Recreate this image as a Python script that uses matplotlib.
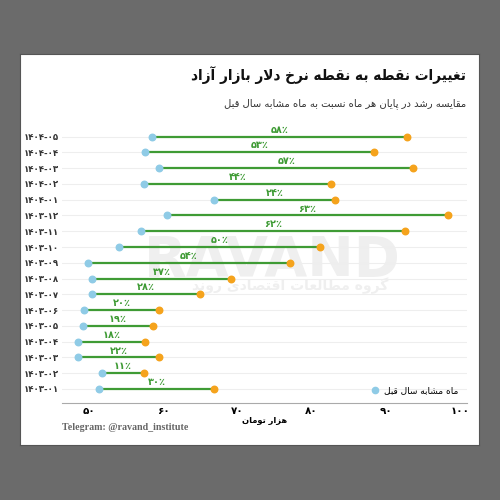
import matplotlib

matplotlib.use("Agg")
import matplotlib.pyplot as plt
from matplotlib.lines import Line2D

# months (bottom to top), rate a year earlier, rate at month end, growth %
months = ["1403-01", "1403-02", "1403-03", "1403-04", "1403-05", "1403-06",
          "1403-07", "1403-08", "1403-09", "1403-10", "1403-11", "1403-12",
          "1404-01", "1404-02", "1404-03", "1404-04", "1404-05"]
prev_year = [51.4, 51.8, 48.6, 48.6, 49.2, 49.3, 50.5, 50.4, 49.9, 54.1, 57.0,
             60.5, 66.9, 57.4, 59.5, 57.6, 58.5]
current = [66.9, 57.4, 59.5, 57.6, 58.6, 59.5, 65.0, 69.2, 77.1, 81.1, 92.6,
           98.4, 83.1, 82.6, 93.7, 88.4, 92.8]
growth = [30, 11, 22, 18, 19, 20, 28, 37, 54, 50, 62, 63, 24, 44, 57, 53, 58]
x_ticks = [50, 60, 70, 80, 90, 100]

TITLE = "تغییرات نقطه به نقطه نرخ دلار بازار آزاد"
SUBTITLE = "مقایسه رشد در پایان هر ماه نسبت به ماه مشابه سال قبل"
LEGEND = "ماه مشابه سال قبل"
XLABEL = "هزار تومان"
WATERMARK = "گروه مطالعات اقتصادی روند"

GREEN = "#3f9b35"
BLUE = "#8fcbe6"
ORANGE = "#f5a31c"

# matplotlib has no Arabic shaping: pick presentation forms by hand and
# reverse for right-to-left display
# letter -> (isolated, final, initial, medial)
FORMS = {
    "ا": ("\uFE8D", "\uFE8E", None, None),
    "آ": ("\uFE81", "\uFE82", None, None),
    "ب": ("\uFE8F", "\uFE90", "\uFE91", "\uFE92"),
    "پ": ("\uFB56", "\uFB57", "\uFB58", "\uFB59"),
    "ت": ("\uFE95", "\uFE96", "\uFE97", "\uFE98"),
    "ح": ("\uFEA1", "\uFEA2", "\uFEA3", "\uFEA4"),
    "خ": ("\uFEA5", "\uFEA6", "\uFEA7", "\uFEA8"),
    "د": ("\uFEA9", "\uFEAA", None, None),
    "ر": ("\uFEAD", "\uFEAE", None, None),
    "ز": ("\uFEAF", "\uFEB0", None, None),
    "س": ("\uFEB1", "\uFEB2", "\uFEB3", "\uFEB4"),
    "ش": ("\uFEB5", "\uFEB6", "\uFEB7", "\uFEB8"),
    "ص": ("\uFEB9", "\uFEBA", "\uFEBB", "\uFEBC"),
    "ط": ("\uFEC1", "\uFEC2", "\uFEC3", "\uFEC4"),
    "ع": ("\uFEC9", "\uFECA", "\uFECB", "\uFECC"),
    "غ": ("\uFECD", "\uFECE", "\uFECF", "\uFED0"),
    "ق": ("\uFED5", "\uFED6", "\uFED7", "\uFED8"),
    "ک": ("\uFB8E", "\uFB8F", "\uFB90", "\uFB91"),
    "گ": ("\uFB92", "\uFB93", "\uFB94", "\uFB95"),
    "ل": ("\uFEDD", "\uFEDE", "\uFEDF", "\uFEE0"),
    "م": ("\uFEE1", "\uFEE2", "\uFEE3", "\uFEE4"),
    "ن": ("\uFEE5", "\uFEE6", "\uFEE7", "\uFEE8"),
    "ه": ("\uFEE9", "\uFEEA", "\uFEEB", "\uFEEC"),
    "و": ("\uFEED", "\uFEEE", None, None),
    "ی": ("\uFBFC", "\uFBFD", "\uFBFE", "\uFBFF"),
}


def _dual(c):
    return c in FORMS and FORMS[c][2] is not None


def fa(text):
    out = []
    i = 0
    while i < len(text):
        c = text[i]
        prev = text[i - 1] if i > 0 else ""
        nxt = text[i + 1] if i + 1 < len(text) else ""
        if c not in FORMS:
            out.append(c)
        elif c == "ل" and nxt == "ا":
            out.append("\uFEFC" if _dual(prev) else "\uFEFB")
            i += 1
        else:
            back = _dual(prev)
            fwd = _dual(c) and nxt in FORMS
            out.append(FORMS[c][(3 if fwd else 1) if back else (2 if fwd else 0)])
        i += 1
    return "".join(out)[::-1]


def fa_digits(s):
    return str(s).translate(str.maketrans("0123456789", "۰۱۲۳۴۵۶۷۸۹"))


fig = plt.figure(figsize=(5, 5), dpi=100, facecolor="#6b6b6b")
# white card behind everything
card = fig.add_axes([0.04, 0.11, 0.918, 0.782], zorder=-5)
card.set_facecolor("white")
card.set_xticks([])
card.set_yticks([])
for s in card.spines.values():
    s.set_color("#555555")
    s.set_linewidth(0.8)

ax = fig.add_axes([0.124, 0.194, 0.81, 0.558])
ax.set_facecolor("none")
ys = list(range(len(months)))

for y in ys:
    ax.axhline(y, color="#eeeeee", lw=0.8, zorder=1)

for y, a, b, g in zip(ys, prev_year, current, growth):
    ax.plot([a, b], [y, y], color=GREEN, lw=1.6, zorder=3, solid_capstyle="butt")
    ax.text((a + b) / 2, y + 0.12, fa_digits(g) + "٪", ha="center", va="bottom",
            color=GREEN, fontsize=7, fontweight="bold", zorder=5)
ax.scatter(prev_year, ys, s=22, color=BLUE, zorder=4)
ax.scatter(current, ys, s=22, color=ORANGE, zorder=4)

# faint watermark behind the data
ax.text(0.52, 0.51, "RAVAND", transform=ax.transAxes, ha="center", va="center",
        fontsize=40, fontweight="bold", color="#efefef", zorder=0)
ax.text(0.563, 0.42, fa(WATERMARK), transform=ax.transAxes, ha="center", va="center",
        fontsize=10, fontweight="bold", color="#efefef", zorder=0)

ax.set_xlim(46.4, 100.9)
ax.set_ylim(-0.89, 16.8)
ax.set_xticks(x_ticks)
ax.set_xticklabels([fa_digits(t) for t in x_ticks], fontsize=7.5, fontweight="bold")
ax.set_yticks(ys)
ax.set_yticklabels([fa_digits(m) for m in months], fontsize=6.2, fontweight="bold",
                   color="#333333")
ax.tick_params(length=0, pad=2)
ax.tick_params(axis="x", pad=2.5)
for side in ("top", "right", "left"):
    ax.spines[side].set_visible(False)
ax.spines["bottom"].set_color("#aaaaaa")
ax.set_xlabel(fa(XLABEL), fontsize=6, fontweight="bold", labelpad=0)

handle = Line2D([], [], marker="o", ls="none", color=BLUE, markersize=4.5)
ax.legend([handle], [fa(LEGEND)], loc="lower right", frameon=False, fontsize=6.5,
          handletextpad=0.5, handlelength=1.2, bbox_to_anchor=(1.0, 0.0))

fig.text(0.932, 0.85, fa(TITLE), ha="right", va="center", fontsize=11,
         fontweight="bold", fontstretch="condensed", color="#111111")
fig.text(0.932, 0.792, fa(SUBTITLE), ha="right", va="center", fontsize=7.2,
         color="#333333")
fig.text(0.124, 0.144, "Telegram: @ravand_institute", ha="left", va="center",
         fontsize=7.2, fontweight="bold", family="Liberation Serif", color="#666666")

fig.savefig("out.png", dpi=100, facecolor=fig.get_facecolor())
